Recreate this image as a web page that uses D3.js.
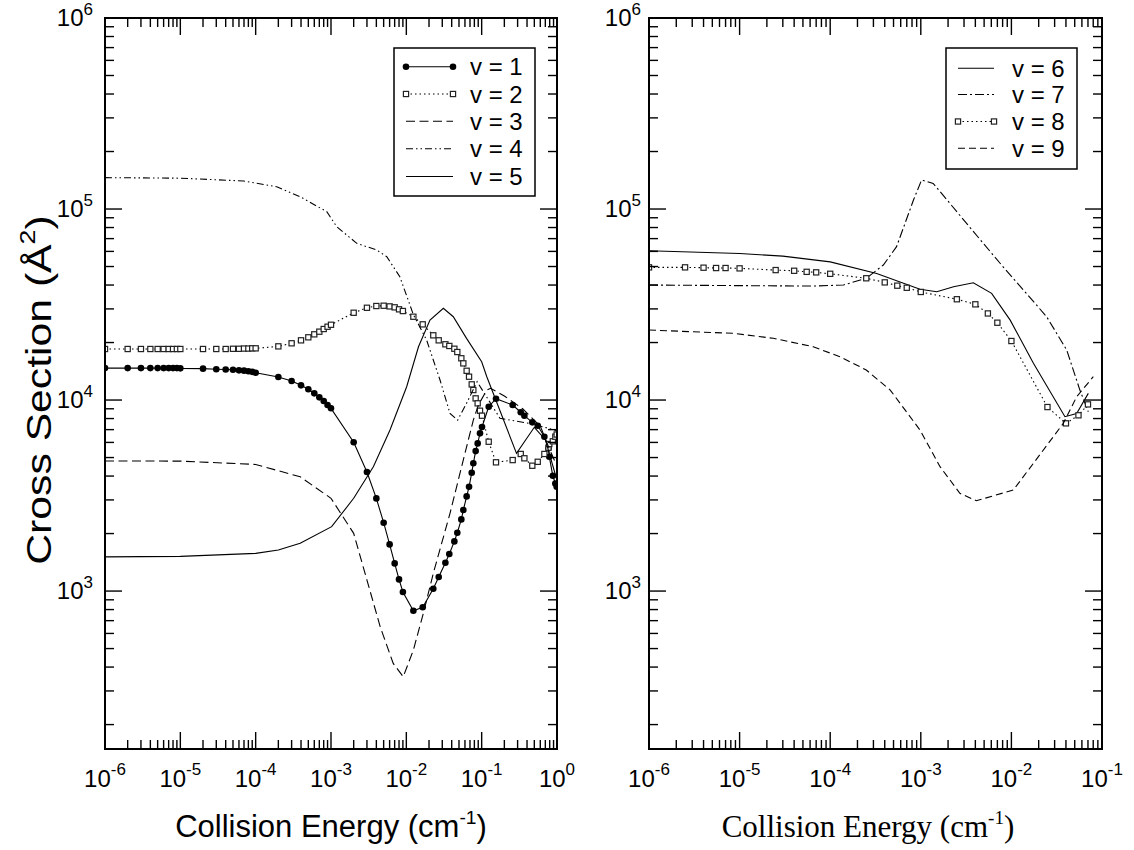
<!DOCTYPE html>
<html><head><meta charset="utf-8">
<script src="https://cdn.jsdelivr.net/npm/d3@7"></script>
<style>body{margin:0;background:#fff}svg{display:block}</style>
</head><body>
<svg id="c" width="1134" height="850"></svg>
<script>
// ---------- DATA ----------
// Left panel (v = 1 .. 5)
const energyLeftPts = [1e-6,2e-6,3e-6,4e-6,5e-6,6e-6,7e-6,8e-6,9e-6,1e-5,
  2e-5,3e-5,4e-5,5e-5,6e-5,7e-5,8e-5,9e-5,1e-4,
  2e-4,3e-4,4e-4,5e-4,6e-4,7e-4,8e-4,9e-4,1e-3,
  2e-3,3e-3,4e-3,5e-3,6e-3,7e-3,8e-3,9e-3,
  0.0124,0.0165,0.0228,0.0269,0.033,0.0372,0.0434,0.0475,0.0537,0.0571,0.0632,0.068,0.0738,0.0775,0.0832,0.0885,0.095,0.101,
  0.124,0.155,0.258,0.33,0.369,0.47,0.555,0.68,0.77,0.79,0.88,0.95,0.99];
const v1 = [14700,14700,14700,14700,14700,14700,14700,14700,14700,14650,
  14600,14500,14450,14400,14300,14250,14150,14050,13900,
  13200,12580,11940,11380,10840,10330,9880,9420,9050,
  6010,4200,3055,2280,1755,1396,1151,989,
  789,822,1028,1184,1406,1563,1820,2020,2372,2655,3130,3515,4160,4665,5405,5930,6695,7225,
  9225,10160,9420,8630,8280,7640,7330,6430,5585,5050,4015,3660,3515];
const v2 = [18500,18500,18500,18500,18500,18500,18500,18500,18500,18500,
  18500,18500,18500,18550,18550,18600,18600,18650,18650,
  19100,19820,20540,21300,22080,22800,23540,24200,24780,
  28640,30410,31060,31170,30920,30570,29850,29240,
  27300,24900,21820,20540,19580,19190,18560,17840,16540,15560,14230,13250,12080,11280,10200,9610,8790,8280,
  6050,4720,4850,5220,4955,4530,4750,5220,5630,5885,6080,6430,6600];
const energyV3 = [1e-6,1e-5,1e-4,3.9e-4,1e-3,2e-3,3e-3,4.5e-3,6.7e-3,9.1e-3,0.0124,0.0168,0.0228,0.038,0.057,0.0775,0.0904,0.117,0.131,0.2,0.35,0.6,0.8,1.0];
const v3 = [4800,4790,4600,3965,3060,2005,1142,650,418,356,491,764,1238,2553,4850,7855,9420,11280,11520,10500,9000,7300,5500,4500];
const energyV4 = [1e-6,1e-5,6.9e-5,1.9e-4,3.9e-4,8.8e-4,1.19e-3,2.2e-3,4.05e-3,5.5e-3,8.2e-3,0.0124,0.0186,0.028,0.038,0.048,0.063,0.087,0.175,0.49,1.0];
const v4 = [146000,145000,140200,130900,115900,96800,80800,66100,61000,56300,44200,28000,20600,12730,8510,7855,9610,12470,8020,7480,6900];
const energyV5 = [1e-6,1e-5,1e-4,2e-4,3.9e-4,1.02e-3,2e-3,3.65e-3,6.07e-3,0.0101,0.0145,0.0206,0.031,0.042,0.063,0.1,0.117,0.29,0.5,0.7,1.0];
const v5 = [1510,1520,1575,1640,1778,2173,3060,4477,6965,11740,19010,26220,30200,27300,21040,15870,13250,5260,7200,6200,3800];

// Right panel (v = 6 .. 9)
const energyV6 = [1e-6,1e-5,3e-5,1e-4,3.26e-4,9.8e-4,1.5e-3,2.3e-3,3.8e-3,6.05e-3,9.7e-3,0.0175,0.039,0.0525,0.0706];
const v6 = [60500,58500,56700,52900,46000,38000,36900,39200,41100,36200,26200,15570,8180,8510,10840];
const energyV7 = [1e-6,6.5e-5,1.4e-4,2.5e-4,3.86e-4,5.4e-4,8.3e-4,1.02e-3,1.37e-3,3.2e-3,7.5e-3,0.0245,0.0408,0.057,0.0706];
const v7 = [40000,39500,40000,43400,50900,63500,111400,141900,136200,84100,52000,27300,18270,11280,8690];
const energyV8 = [1e-6,2.5e-6,4e-6,5.5e-6,7e-6,1e-5,2.5e-5,4e-5,5.5e-5,7e-5,1e-4,2.5e-4,4e-4,5.5e-4,7e-4,1e-3,2.5e-3,4e-3,5.5e-3,7e-3,1e-2,0.025,0.04,0.055,0.07];
const v8 = [49500,49500,49300,49100,49100,48900,47900,47500,46900,46600,45800,43400,41300,39700,38700,36800,33700,31700,28400,25400,20370,9190,7550,8320,9490];
const energyV9 = [1e-6,8.5e-6,2.35e-5,6.5e-5,1.28e-4,2.5e-4,4.6e-4,9.8e-4,1.63e-3,2.7e-3,4.1e-3,0.0105,0.0175,0.0374,0.0525,0.0802];
const v9 = [23250,22350,21050,19010,16860,14370,11280,6965,4480,3250,2970,3380,4665,7550,10400,13250];

const xTicksLeft = [1e-6,1e-5,1e-4,1e-3,1e-2,1e-1,1e0];
const xTickLabelsLeft = ["-6","-5","-4","-3","-2","-1","0"];
const xTicksRight = [1e-6,1e-5,1e-4,1e-3,1e-2,1e-1];
const xTickLabelsRight = ["-6","-5","-4","-3","-2","-1"];
const yTicks = [1e3,1e4,1e5,1e6];
const yTickLabels = ["3","4","5","6"];
const legendLeft = ["v = 1","v = 2","v = 3","v = 4","v = 5"];
const legendRight = ["v = 6","v = 7","v = 8","v = 9"];

// ---------- DRAW ----------
const svg = d3.select("#c");
const SANS = "'Liberation Sans', Arial, Helvetica, sans-serif";
const SERIF = "'Liberation Serif', 'Times New Roman', serif";
const Y0 = 749, Y1 = 18;
const y = d3.scaleLog().domain([149, 1e6]).range([Y0, Y1]);

const styles = {
  solid: null,
  dotted: "1.5,3",
  dashed: "9,4.5",
  dashdotdot: "7,3,1.5,3,1.5,3",
  dashdot: "9,3,2,3",
  dashed2: "7,4"
};

function panel(cfg){
  const x = d3.scaleLog().domain(cfg.xdom).range([cfg.x0, cfg.x1]);
  const g = svg.append("g");
  const clipId = "clip" + cfg.id;
  svg.append("clipPath").attr("id", clipId).append("rect")
    .attr("x", cfg.x0).attr("y", Y1).attr("width", cfg.x1 - cfg.x0).attr("height", Y0 - Y1);
  const plot = g.append("g").attr("clip-path", `url(#${clipId})`);

  cfg.series.forEach(s => {
    const pts = s.e.map((e, i) => [x(e), y(s.v[i])]);
    plot.append("path")
      .attr("d", d3.line()(pts))
      .attr("fill", "none").attr("stroke", "#000").attr("stroke-width", 1.1)
      .attr("stroke-dasharray", styles[s.style]);
    if (s.marker === "circle") {
      plot.selectAll(null).data(pts).enter().append("circle")
        .attr("cx", d => d[0]).attr("cy", d => d[1]).attr("r", 3.3).attr("fill", "#000");
    } else if (s.marker === "square") {
      plot.selectAll(null).data(pts).enter().append("rect")
        .attr("x", d => d[0] - 2.6).attr("y", d => d[1] - 2.6).attr("width", 5.2).attr("height", 5.2)
        .attr("fill", "#fff").attr("stroke", "#222").attr("stroke-width", 1.2);
    }
  });

  // ticks
  const tk = g.append("g").attr("stroke", "#000").attr("stroke-width", 1.4);
  const xMinor = [];
  const [xa, xb] = cfg.xdom;
  for (let p = Math.round(Math.log10(xa)); p < Math.round(Math.log10(xb)); p++)
    for (let m = 2; m <= 9; m++) xMinor.push(m * Math.pow(10, p));
  xMinor.forEach(v => {
    tk.append("line").attr("x1", x(v)).attr("x2", x(v)).attr("y1", Y0).attr("y2", Y0 - 9);
    tk.append("line").attr("x1", x(v)).attr("x2", x(v)).attr("y1", Y1).attr("y2", Y1 + 9);
  });
  cfg.xticks.forEach(v => {
    tk.append("line").attr("x1", x(v)).attr("x2", x(v)).attr("y1", Y0).attr("y2", Y0 - 17);
    tk.append("line").attr("x1", x(v)).attr("x2", x(v)).attr("y1", Y1).attr("y2", Y1 + 17);
  });
  const yMinor = [];
  for (let p = 2; p < 6; p++) for (let m = 2; m <= 9; m++) { const v = m * Math.pow(10, p); if (v >= 149) yMinor.push(v); }
  yMinor.forEach(v => {
    tk.append("line").attr("x1", cfg.x0).attr("x2", cfg.x0 + 9).attr("y1", y(v)).attr("y2", y(v));
    tk.append("line").attr("x1", cfg.x1).attr("x2", cfg.x1 - 9).attr("y1", y(v)).attr("y2", y(v));
  });
  yTicks.forEach(v => {
    tk.append("line").attr("x1", cfg.x0).attr("x2", cfg.x0 + 17).attr("y1", y(v)).attr("y2", y(v));
    tk.append("line").attr("x1", cfg.x1).attr("x2", cfg.x1 - 17).attr("y1", y(v)).attr("y2", y(v));
  });

  // frame
  g.append("rect").attr("x", cfg.x0).attr("y", Y1).attr("width", cfg.x1 - cfg.x0).attr("height", Y0 - Y1)
    .attr("fill", "none").attr("stroke", "#000").attr("stroke-width", 2);

  // x tick labels
  cfg.xticks.forEach((v, i) => {
    const t = g.append("text").attr("x", x(v)).attr("y", 787).attr("text-anchor", "middle")
      .attr("font-family", SANS).attr("font-size", 24);
    t.append("tspan").text("10");
    t.append("tspan").attr("dy", -12).attr("font-size", 17).text(cfg.xlabels[i]);
  });
  // y tick labels
  yTicks.forEach((v, i) => {
    const t = g.append("text").attr("x", cfg.ylabX).attr("y", y(v) + 8).attr("text-anchor", "end")
      .attr("font-family", SANS).attr("font-size", 24);
    t.append("tspan").text("10");
    t.append("tspan").attr("dy", -11).attr("font-size", 17).text(yTickLabels[i]);
  });

  // x title
  const tt = g.append("text").attr("x", cfg.titleX).attr("y", 837).attr("text-anchor", "middle")
    .attr("font-family", cfg.titleFont).attr("font-size", cfg.titleSize);
  tt.append("tspan").text("Collision Energy (cm");
  tt.append("tspan").attr("dy", -13).attr("font-size", cfg.titleSize * 0.62).text("-1");
  tt.append("tspan").attr("dy", 13).text(")");

  // legend
  const L = cfg.legend;
  g.append("rect").attr("x", L.x).attr("y", L.y).attr("width", L.w).attr("height", L.h)
    .attr("fill", "#fff").attr("stroke", "#000").attr("stroke-width", 1.5);
  cfg.series.forEach((s, i) => {
    const ry = L.rows[i];
    g.append("line").attr("x1", L.lx0).attr("x2", L.lx1).attr("y1", ry).attr("y2", ry)
      .attr("stroke", "#000").attr("stroke-width", 1.1).attr("stroke-dasharray", styles[s.style]);
    [L.lx0, L.lx1].forEach(px => {
      if (s.marker === "circle") g.append("circle").attr("cx", px).attr("cy", ry).attr("r", 3.3).attr("fill", "#000");
      if (s.marker === "square") g.append("rect").attr("x", px - 2.6).attr("y", ry - 2.6).attr("width", 5.2).attr("height", 5.2)
        .attr("fill", "#fff").attr("stroke", "#222").attr("stroke-width", 1.2);
    });
    g.append("text").attr("x", L.tx).attr("y", ry + 8.5).attr("font-family", SANS).attr("font-size", 24)
      .text(cfg.legendLabels[i]);
  });
}

panel({
  id: "L", x0: 105, x1: 557, xdom: [1e-6, 1], xticks: xTicksLeft, xlabels: xTickLabelsLeft,
  ylabX: 93, titleX: 331, titleFont: SANS, titleSize: 31,
  legendLabels: legendLeft,
  legend: {x: 394, y: 48, w: 141, h: 148, lx0: 406, lx1: 453, tx: 470, rows: [66.7, 94, 121.3, 148.7, 176.5]},
  series: [
    {e: energyLeftPts, v: v1, style: "solid", marker: "circle"},
    {e: energyLeftPts, v: v2, style: "dotted", marker: "square"},
    {e: energyV3, v: v3, style: "dashed"},
    {e: energyV4, v: v4, style: "dashdotdot"},
    {e: energyV5, v: v5, style: "solid"}
  ]
});

panel({
  id: "R", x0: 649, x1: 1102, xdom: [1e-6, 1e-1], xticks: xTicksRight, xlabels: xTickLabelsRight,
  ylabX: 641, titleX: 868, titleFont: SERIF, titleSize: 31,
  legendLabels: legendRight,
  legend: {x: 946, y: 48, w: 131, h: 121, lx0: 958, lx1: 994, tx: 1012, rows: [68.3, 94.5, 121.5, 148.3]},
  series: [
    {e: energyV6, v: v6, style: "solid"},
    {e: energyV7, v: v7, style: "dashdot"},
    {e: energyV8, v: v8, style: "dotted", marker: "square"},
    {e: energyV9, v: v9, style: "dashed2"}
  ]
});

// y title (stretched along its length, as in the reference)
const yt = svg.append("text").attr("transform", "translate(51,390) rotate(-90) scale(1.22,1)")
  .attr("text-anchor", "middle").attr("font-family", SANS).attr("font-size", 35);
yt.append("tspan").text("Cross Section (Å");
yt.append("tspan").attr("dy", -16).attr("font-size", 22).text("2");
yt.append("tspan").attr("dy", 16).text(")");
</script>
</body></html>
